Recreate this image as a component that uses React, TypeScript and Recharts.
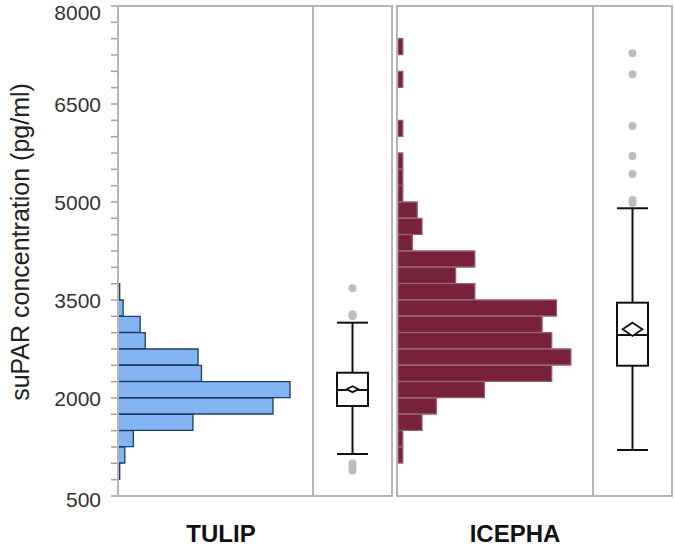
import React from "react";
import { BarChart, Bar, ComposedChart, Scatter, XAxis, YAxis } from "recharts";

const FONT = "'Liberation Sans', Arial, sans-serif";

// histogram bins (lower edge, width 250 pg/ml)
const binStarts = [
  500, 750, 1000, 1250, 1500, 1750, 2000, 2250, 2500, 2750, 3000, 3250, 3500, 3750, 4000,
  4250, 4500, 4750, 5000, 5250, 5500, 5750, 6000, 6250, 6500, 6750, 7000, 7250, 7500, 7750,
];
const tulipCounts = [
  0, 1, 4, 9, 44, 91, 101, 49, 47, 16, 13, 3, 1, 0, 0,
  0, 0, 0, 0, 0, 0, 0, 0, 0, 0, 0, 0, 0, 0, 0,
];
const icephaCounts = [
  0, 0, 1, 1, 5, 8, 18, 32, 36, 32, 30, 33, 16, 12, 16,
  3, 5, 4, 1, 1, 1, 0, 1, 0, 0, 1, 0, 1, 0, 0,
];

const yMajorTicks = [500, 2000, 3500, 5000, 6500, 8000];
const yAllTicks = Array.from({ length: 31 }, (_, i) => 500 + i * 250);

const tulipBox = {
  group: "TULIP",
  whisker: [1143, 3153],
  q1: 1878,
  median: 2122,
  q3: 2387,
  mean: 2135,
  ciLow: 2090,
  ciHigh: 2180,
};
const icephaBox = {
  group: "ICEPHA",
  whisker: [1204, 4904],
  q1: 2494,
  median: 2964,
  q3: 3459,
  mean: 3052,
  ciLow: 2950,
  ciHigh: 3153,
};
const tulipOutliers = [3679, 3255, 3268, 3282, 1000, 940, 890];
const icephaOutliers = [7276, 6955, 6163, 5704, 5429, 5031, 4985];

const toRows = (counts: number[]) =>
  binStarts.map((b, i) => ({ bin: b, count: counts[i] })).reverse();

const YTick = (props: any) => {
  const { x, y, payload } = props;
  if (!yMajorTicks.includes(payload.value)) return <g />;
  const shift = payload.value === 8000 ? 6 : payload.value === 500 ? 3 : 0;
  return (
    <text
      x={x}
      y={y + shift}
      textAnchor="end"
      dominantBaseline="central"
      fontSize={21}
      fill="#333"
      fontFamily={FONT}
    >
      {payload.value}
    </text>
  );
};

const Histogram = ({ counts, max, fill, stroke }: any) => (
  <BarChart
    layout="vertical"
    width={195}
    height={548}
    data={toRows(counts)}
    margin={{ top: 6, right: 0, bottom: 52, left: 0 }}
    barCategoryGap={0}
  >
    <XAxis type="number" domain={[0, max]} hide allowDataOverflow />
    <YAxis type="category" dataKey="bin" hide />
    <Bar dataKey="count" fill={fill} stroke={stroke} strokeWidth={1.3} isAnimationActive={false} />
  </BarChart>
);

const BoxShape = (props: any) => {
  const { x, y, width, height } = props;
  const d = props.payload ?? props;
  const [lo, hi] = d.whisker;
  const top = Math.min(y, y + height);
  const h = Math.abs(height);
  const py = (v: number) => top + ((hi - v) / (hi - lo)) * h;
  const cx = x + width / 2;
  const yq3 = py(d.q3);
  const yq1 = py(d.q1);
  const ym = py(d.mean);
  const dTop = py(d.ciHigh);
  const dBot = py(d.ciLow);
  const hw = Math.min(width * 0.32, dBot - dTop);
  return (
    <g stroke="#111" strokeWidth={2} fill="none">
      <line x1={cx} x2={cx} y1={top} y2={yq3} />
      <line x1={cx} x2={cx} y1={yq1} y2={top + h} />
      <line x1={x} x2={x + width} y1={top} y2={top} />
      <line x1={x} x2={x + width} y1={top + h} y2={top + h} />
      <rect x={x} y={yq3} width={width} height={yq1 - yq3} fill="#fff" />
      <line x1={x} x2={x + width} y1={py(d.median)} y2={py(d.median)} />
      <polygon
        points={`${cx},${dTop} ${cx + hw},${ym} ${cx},${dBot} ${cx - hw},${ym}`}
        fill="#fff"
        strokeWidth={1.8}
      />
    </g>
  );
};

const OutlierDot = (props: any) => (
  <circle cx={props.cx} cy={props.cy} r={4} fill="#bdbdbd" />
);

// box panel; the first one also carries the shared numeric axis (padding pushes the box right)
const BoxPanel = ({ box, outliers, withAxis }: any) => (
  <ComposedChart
    width={withAxis ? 392 : 79}
    height={548}
    data={[box]}
    margin={{ top: 6, right: 0, bottom: 52, left: 0 }}
  >
    <XAxis
      type="category"
      dataKey="group"
      hide
      allowDuplicatedCategory={false}
      padding={{ left: withAxis ? 195 : 0, right: 0 }}
    />
    <YAxis
      type="number"
      domain={[500, 8000]}
      allowDataOverflow
      hide={!withAxis}
      ticks={yAllTicks}
      interval={0}
      width={118}
      axisLine={false}
      tickSize={7}
      tickMargin={10}
      tickLine={{ stroke: "#a0a0a0", strokeWidth: 1.5 }}
      tick={<YTick />}
    />
    <Bar dataKey="whisker" barSize={31} shape={(p: any) => <BoxShape {...p} />} isAnimationActive={false} />
    <Scatter
      data={outliers.map((v: number) => ({ group: box.group, value: v }))}
      dataKey="value"
      shape={(p: any) => <OutlierDot {...p} />}
      isAnimationActive={false}
    />
  </ComposedChart>
);

export default function App() {
  return (
    <div style={{ position: "absolute", left: 0, top: 0, width: 675, height: 548, background: "#fff" }}>
      <div style={{ position: "absolute", left: 118, top: 0 }}>
        <Histogram counts={tulipCounts} max={114.5} fill="#82b5f2" stroke="#1f3c63" />
      </div>
      <div style={{ position: "absolute", left: 0, top: 0 }}>
        <BoxPanel box={tulipBox} outliers={tulipOutliers} withAxis />
      </div>
      <div style={{ position: "absolute", left: 398, top: 0 }}>
        <Histogram counts={icephaCounts} max={40.6} fill="#77213a" stroke="#946070" />
      </div>
      <div style={{ position: "absolute", left: 593, top: 0 }}>
        <BoxPanel box={icephaBox} outliers={icephaOutliers} />
      </div>
      <svg
        width={675}
        height={548}
        style={{ position: "absolute", left: 0, top: 0, pointerEvents: "none" }}
        fontFamily={FONT}
      >
        <g stroke="#b5b5b5" strokeWidth={2} fill="none">
          <rect x={118} y={6} width={274} height={490} />
          <line x1={313} x2={313} y1={6} y2={496} />
          <rect x={397} y={6} width={275} height={490} />
          <line x1={593} x2={593} y1={6} y2={496} />
        </g>
        <text
          transform="translate(20,242) rotate(-90)"
          textAnchor="middle"
          dominantBaseline="central"
          fontSize={25}
          fill="#222"
        >
          suPAR concentration (pg/ml)
        </text>
        <text x={221} y={542} textAnchor="middle" fontSize={24} fontWeight="bold" fill="#111">
          TULIP
        </text>
        <text x={515} y={542} textAnchor="middle" fontSize={24} fontWeight="bold" fill="#111">
          ICEPHA
        </text>
      </svg>
    </div>
  );
}
